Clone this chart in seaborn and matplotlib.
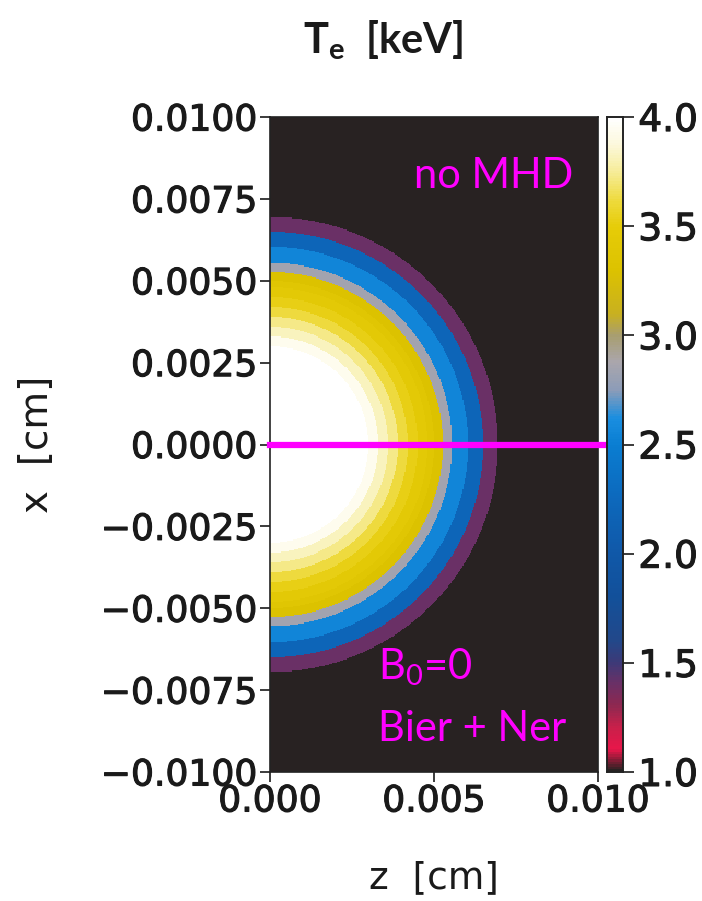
import numpy as np
import pandas as pd
import matplotlib
matplotlib.use("Agg")
import matplotlib.pyplot as plt
import matplotlib.patheffects as pe
import seaborn as sns
from matplotlib.colors import LinearSegmentedColormap

# ---- data: radial Te profile (stepped rings), radius in cm ----
ring_outer_radius = [0.0030, 0.0033, 0.0036, 0.0039, 0.0042, 0.0045, 0.0048,
                     0.0050, 0.00527, 0.00555, 0.00604, 0.0065, 0.00695]
ring_te = [4.0, 3.93, 3.82, 3.72, 3.62, 3.52, 3.44, 3.37, 3.3,
           2.85, 2.55, 2.2, 1.4]
background_te = 1.0

z_range = [0.0, 0.010]
x_range = [-0.010, 0.010]
z_ticks = [0.000, 0.005, 0.010]
x_ticks = [0.0100, 0.0075, 0.0050, 0.0025, 0.0000, -0.0025, -0.0050, -0.0075, -0.0100]
cbar_ticks = [1.0, 1.5, 2.0, 2.5, 3.0, 3.5, 4.0]
te_min, te_max = 1.0, 4.0

# colormap nodes (value, color)
cmap_values = [1.0, 1.1, 1.2, 1.3, 1.4, 1.5, 1.6, 1.8, 2.0, 2.3, 2.5, 2.62,
               2.75, 2.88, 3.0, 3.1, 3.3, 3.5, 3.62, 3.75, 3.88, 4.0]
cmap_colors = ["#282222", "#e8164a", "#c8204a", "#8e2850", "#6a3066", "#3c3a78",
               "#22488a", "#12509a", "#1058a8", "#0c6cc0", "#0a7ed2", "#1a8ee0",
               "#8c9cb8", "#aaa6ac", "#a89e70", "#c8b020", "#dcc200", "#e6cc08",
               "#eeda3c", "#f6ec96", "#fcf8dc", "#ffffff"]

# ---- grid ----
nz, nx = 300, 600
z_c = z_range[0] + (np.arange(nz) + 0.5) * (z_range[1] - z_range[0]) / nz
x_c = x_range[1] - (np.arange(nx) + 0.5) * (x_range[1] - x_range[0]) / nx
Z, X = np.meshgrid(z_c, x_c)
R = np.sqrt(Z ** 2 + X ** 2)
levels = np.array(ring_te + [background_te])
Te = levels[np.searchsorted(ring_outer_radius, R)]
df = pd.DataFrame(Te, index=x_c, columns=z_c)

cmap = LinearSegmentedColormap.from_list(
    "te", [((v - te_min) / (te_max - te_min), c) for v, c in zip(cmap_values, cmap_colors)])

plt.rcParams["font.family"] = ["DejaVu Sans"]
fig = plt.figure(figsize=(7.02, 9.01), dpi=100)
ax = fig.add_axes([0.3846, 0.1432, 0.4673, 0.7269])
cax = fig.add_axes([0.8647, 0.1432, 0.0228, 0.7269])

sns.heatmap(df, ax=ax, cbar_ax=cax, cmap=cmap, vmin=te_min, vmax=te_max,
            xticklabels=False, yticklabels=False, rasterized=True)

def zpos(v):
    return (v - z_range[0]) / (z_range[1] - z_range[0]) * nz

def xpos(v):
    return (x_range[1] - v) / (x_range[1] - x_range[0]) * nx

def fmt(v, d):
    s = f"{v:.{d}f}"
    if float(s) == 0:
        s = s.lstrip("-")
    return s.replace("-", "\u2212")

thick = [pe.withStroke(linewidth=0.8, foreground="#1a1a1a")]
ink = "#1a1a1a"

ax.set_xticks([zpos(v) for v in z_ticks])
ax.set_xticklabels([fmt(v, 3) for v in z_ticks])
ax.set_yticks([xpos(v) for v in x_ticks])
ax.set_yticklabels([fmt(v, 4) for v in x_ticks], rotation=0)
ax.tick_params(axis="both", labelsize=26, length=7, width=1.2, colors=ink, pad=2)
for lab in ax.get_xticklabels() + ax.get_yticklabels():
    lab.set_path_effects(thick)
for sp in ax.spines.values():
    sp.set_visible(True)
    sp.set_color("#222222")
    sp.set_linewidth(1.2)

# magenta line at x = 0
ax.axhline(xpos(0.0), xmin=0, xmax=1.03, color="#ff00ff", lw=4.5, clip_on=False, zorder=5)

ax.set_xlabel("z  [cm]", fontsize=27, labelpad=30, color=ink)
ax.set_ylabel("x  [cm]", fontsize=28, labelpad=32, color=ink)

mag = "#ff00ff"
ax.text(zpos(0.0044), xpos(0.0082), "no MHD", color=mag, fontsize=30,
        family="Lato", ha="left", va="center")
ax.text(zpos(0.0033), xpos(-0.0068), "B$_\\mathregular{0}$=0", color=mag, fontsize=30,
        family="Lato", ha="left", va="center")
ax.text(zpos(0.0033), xpos(-0.0087), "Bier + Ner", color=mag, fontsize=30,
        family="Lato", ha="left", va="center")

cax.set_yticks(cbar_ticks)
cax.set_yticklabels([f"{v:.1f}" for v in cbar_ticks])
cax.tick_params(labelsize=27, length=8, width=1.2, colors=ink, pad=3)
for lab in cax.get_yticklabels():
    lab.set_path_effects(thick)
for sp in cax.spines.values():
    sp.set_visible(True)
    sp.set_color("#222222")
    sp.set_linewidth(1.2)

fig.text(0.546, 0.956, "T$_\\mathregular{e}$  [keV]", fontsize=30, fontweight="bold",
         family="Lato", ha="center", va="center", color=ink)

fig.savefig("out.png", dpi=100)
